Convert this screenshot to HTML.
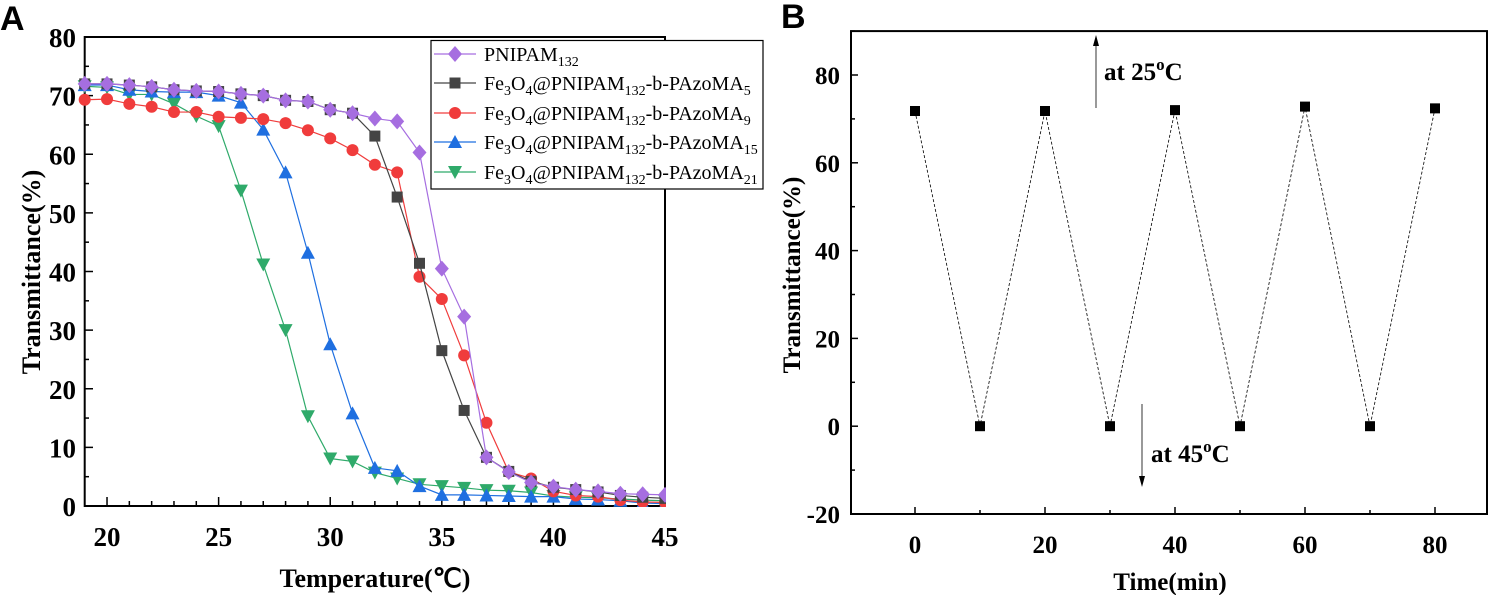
<!DOCTYPE html>
<html><head><meta charset="utf-8"><style>
html,body{margin:0;padding:0;background:#fff;}
svg{display:block;font-family:"Liberation Serif",serif;}
</style></head><body>
<svg id="s" width="1501" height="595" viewBox="0 0 1501 595" xmlns="http://www.w3.org/2000/svg"></svg>
<script>
const s=document.getElementById('s');let h='';
const ax=x=>84.7+(x-19)*22.32, ay=y=>506-y*5.8625;
h+='<text x="0" y="30" font-family="Liberation Sans" font-weight="bold" font-size="34">A</text>';
h+='<rect x="84.7" y="37" width="580.3" height="469" fill="none" stroke="#000" stroke-width="2"/>';
for(let v=0;v<=80;v+=5){let y=ay(v);h+=`<line x1="84.7" x2="${v%10?89:93}" y1="${y}" y2="${y}" stroke="#000" stroke-width="1.5"/>`;
 if(v%10==0)h+=`<text x="76" y="${y+10}" text-anchor="end" font-weight="bold" font-size="27">${v}</text>`;}
for(let v=20;v<=45;v++){let x=ax(v);h+=`<line x1="${x}" x2="${x}" y1="506" y2="${v%5?501:497}" stroke="#000" stroke-width="1.5"/>`;
 if(v%5==0)h+=`<text x="${x}" y="546" text-anchor="middle" font-weight="bold" font-size="27">${v}</text>`;}
h+='<text x="375" y="587" text-anchor="middle" font-weight="bold" font-size="26">Temperature(℃)</text>';
h+='<text transform="translate(40,272) rotate(-90)" text-anchor="middle" font-weight="bold" font-size="26">Transmittance(%)</text>';
const D={
p:[72,72,71.8,71.5,71,70.8,70.7,70.3,70,69.2,69,67.6,67,66.1,65.6,60.3,40.5,32.3,8.3,5.8,4,3.3,2.8,2.5,2.1,2,1.9],
k:[72,72,71.8,71.5,71,70.8,70.7,70.3,70,69.2,69,67.6,67,63.1,52.7,41.4,26.5,16.3,8.3,5.9,4.2,3.2,2.8,2.4,1.8,1.5,1.3],
r:[69.3,69.4,68.6,68.1,67.2,67.2,66.4,66.2,66,65.3,64.1,62.7,60.7,58.2,56.9,39.1,35.3,25.7,14.2,5.8,4.7,2.5,1.8,1.6,1,0.7,0.6],
b:[71.8,71.8,71,70.7,70.6,70.6,70,68.8,64.2,56.9,43.2,27.6,15.8,6.5,6,3.4,1.9,1.9,1.8,1.7,1.6,1.6,1.2,1.1,0.9,0.5,0.4],
g:[71.6,71.4,70.2,70.2,68.6,66.5,64.8,53.8,41.2,30,15.3,8.1,7.6,5.7,4.7,3.7,3.4,3.1,2.7,2.6,2.3,1.7,1.5,1.4,1.2,1,0.9]};
const C={p:'#a66ee0',k:'#444',r:'#f03c3c',b:'#1f6fe0',g:'#2faa6a'};
function mk(t,x,y){const c=C[t];
 if(t=='p')return `<polygon points="${x},${y-8} ${x+7},${y} ${x},${y+8} ${x-7},${y}" fill="${c}"/>`;
 if(t=='k')return `<rect x="${x-5.5}" y="${y-5.5}" width="11" height="11" fill="${c}"/>`;
 if(t=='r')return `<circle cx="${x}" cy="${y}" r="6" fill="${c}"/>`;
 if(t=='b')return `<polygon points="${x},${y-7} ${x+7},${y+6} ${x-7},${y+6}" fill="${c}"/>`;
 return `<polygon points="${x},${y+7} ${x+7},${y-6} ${x-7},${y-6}" fill="${c}"/>`;}
h+='<svg x="0" y="0" width="666" height="507" overflow="hidden">';
for(const t of ['g','b','r','k','p']){const pts=D[t].map((v,i)=>[ax(19+i),ay(v)]);
 h+=`<polyline points="${pts.map(p=>p.join(',')).join(' ')}" fill="none" stroke="${C[t]}" stroke-width="1.2"/>`;
 pts.forEach(p=>h+=mk(t,p[0],p[1]));}
h+='</svg>';
h+='<rect x="431" y="40.5" width="332" height="148.5" fill="#fff" stroke="#000" stroke-width="1.2"/>';
const L=[['p','PNIPAM<tspan font-size="14" dy="5">132</tspan>'],['k','5'],['r','9'],['b','15'],['g','21']];
L.forEach((e,i)=>{const y=[54,83,113,142,172][i];
 h+=`<line x1="434" x2="476" y1="${y}" y2="${y}" stroke="${C[e[0]]}" stroke-width="1.2"/>`+mk(e[0],455,y);
 let txt=i==0?e[1]:`Fe<tspan font-size="14" dy="5">3</tspan><tspan dy="-5">O</tspan><tspan font-size="14" dy="5">4</tspan><tspan dy="-5">@PNIPAM</tspan><tspan font-size="14" dy="5">132</tspan><tspan dy="-5">-b-PAzoMA</tspan><tspan font-size="14" dy="5">${e[1]}</tspan>`;
 h+=`<text x="484" y="${y+7}" font-size="20">${txt}</text>`;});
const bx=x=>915+x*6.5, by=y=>514-(y+20)*4.39;
h+='<text x="781" y="28" font-family="Liberation Sans" font-weight="bold" font-size="34">B</text>';
h+=`<rect x="851" y="${by(90)}" width="636" height="${514-by(90)}" fill="none" stroke="#000" stroke-width="2"/>`;
for(let v=-20;v<=90;v+=10){let y=by(v);h+=`<line x1="851" x2="${v%20?855:858}" y1="${y}" y2="${y}" stroke="#000" stroke-width="1.5"/>`;
 if(v%20==0)h+=`<text x="840" y="${y+9}" text-anchor="end" font-weight="bold" font-size="25">${v}</text>`;}
for(let v=0;v<=80;v+=10){let x=bx(v);h+=`<line x1="${x}" x2="${x}" y1="514" y2="${v%20?510:507}" stroke="#000" stroke-width="1.5"/>`;
 if(v%20==0)h+=`<text x="${x}" y="553" text-anchor="middle" font-weight="bold" font-size="25">${v}</text>`;}
h+='<text x="1170" y="590" text-anchor="middle" font-weight="bold" font-size="25">Time(min)</text>';
h+='<text transform="translate(800,275) rotate(-90)" text-anchor="middle" font-weight="bold" font-size="25">Transmittance(%)</text>';
const B=[71.8,0,71.8,0,72,0,72.8,0,72.4];
h+=`<polyline points="${B.map((v,i)=>bx(i*10)+','+by(v)).join(' ')}" fill="none" stroke="#000" stroke-width="0.8" stroke-dasharray="3,2"/>`;
B.forEach((v,i)=>h+=`<rect x="${bx(i*10)-5}" y="${by(v)-5}" width="10" height="10" fill="#000"/>`);
h+='<line x1="1096" x2="1096" y1="108" y2="40" stroke="#000" stroke-width="0.8"/><polygon points="1096,35 1093,46 1099,46" fill="#000"/>';
h+='<text x="1104" y="80" font-weight="bold" font-size="25">at 25<tspan font-size="17" dy="-10">o</tspan><tspan dy="10">C</tspan></text>';
h+='<line x1="1142" x2="1142" y1="404" y2="480" stroke="#000" stroke-width="0.8"/><polygon points="1142,487 1139,476 1145,476" fill="#000"/>';
h+='<text x="1151" y="462" font-weight="bold" font-size="25">at 45<tspan font-size="17" dy="-10">o</tspan><tspan dy="10">C</tspan></text>';
s.innerHTML=h;
</script>
</body></html>
